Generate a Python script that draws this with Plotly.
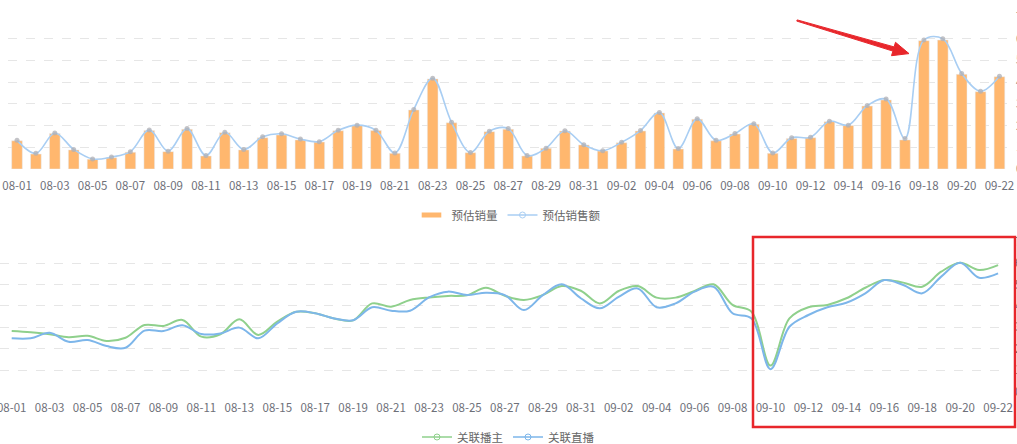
import plotly.graph_objects as go

W, H = 1017, 444

dates = [f"08-{d:02d}" for d in range(1, 32)] + [f"09-{d:02d}" for d in range(1, 23)]

est_volume = [1.30, 0.69, 1.64, 0.88, 0.45, 0.52, 0.77, 1.77, 0.80, 1.83,
              0.60, 1.67, 0.88, 1.44, 1.57, 1.34, 1.24, 1.76, 2.00, 1.77,
              0.72, 2.72, 4.15, 2.13, 0.75, 1.72, 1.83, 0.60, 0.95, 1.75,
              1.11, 0.83, 1.21, 1.75, 2.58, 0.92, 2.29, 1.30, 1.61, 2.06,
              0.72, 1.41, 1.44, 2.18, 2.00, 2.90, 3.18, 1.34, 5.91, 5.94,
              4.36, 3.56, 4.25]

est_sales = [1.32, 0.72, 1.66, 0.90, 0.46, 0.55, 0.80, 1.80, 0.82, 1.86,
             0.62, 1.69, 0.90, 1.48, 1.62, 1.38, 1.26, 1.78, 2.02, 1.78,
             0.74, 2.74, 4.18, 2.15, 0.76, 1.74, 1.86, 0.62, 0.96, 1.76,
             1.12, 0.84, 1.23, 1.77, 2.60, 0.94, 2.31, 1.32, 1.63, 2.08,
             0.74, 1.44, 1.46, 2.20, 2.02, 2.92, 3.22, 1.40, 5.94, 6.00,
             4.40, 3.58, 4.27]

anchor_assoc = [2.83, 2.77, 2.68, 2.54, 2.61, 2.37, 2.52, 3.11, 3.07, 3.35,
                2.57, 2.68, 3.38, 2.65, 3.27, 3.73, 3.66, 3.42, 3.33, 4.12,
                3.97, 4.28, 4.40, 4.47, 4.50, 4.85, 4.47, 4.28, 4.51, 4.93,
                4.71, 4.12, 4.70, 4.93, 4.39, 4.39, 4.70, 5.01, 4.05, 3.73,
                1.22, 3.42, 3.94, 4.05, 4.36, 4.85, 5.21, 5.09, 4.90, 5.60,
                6.02, 5.68, 5.91]

live_assoc = [2.49, 2.49, 2.75, 2.33, 2.41, 2.13, 2.05, 2.85, 2.83, 3.10,
              2.69, 2.72, 2.99, 2.49, 3.19, 3.73, 3.66, 3.42, 3.33, 3.94,
              3.78, 3.78, 4.40, 4.67, 4.51, 4.62, 4.51, 3.81, 4.51, 5.01,
              4.36, 3.89, 4.43, 4.82, 3.94, 4.12, 4.67, 4.90, 3.66, 3.42,
              1.05, 3.03, 3.58, 3.94, 4.15, 4.59, 5.21, 4.98, 4.59, 5.37,
              6.02, 5.32, 5.52]

y_ticks = [0, 1, 2, 3, 4, 5, 6, 7]

ORANGE = "#ffb76e"
LBLUE = "#a9cef3"
GREEN = "#8fd08c"
BLUE = "#7db6ea"
RED = "#e8262b"
FONT = "Noto Sans CJK SC, sans-serif"


def fy(y):
    return 1 - y / H


def px(x, y):
    return x / W, fy(y)


fig = go.Figure()

# ---- top panel ----
fig.add_trace(go.Bar(x=dates, y=est_volume, name="预估销量", marker_color=ORANGE,
                     xaxis="x", yaxis="y", showlegend=False, legend="legend"))
fig.add_trace(go.Scatter(x=dates, y=est_sales, name="预估销售额", mode="lines+markers",
                         line=dict(color=LBLUE, width=1.6, shape="spline", smoothing=1),
                         marker=dict(size=5, color="rgba(175,175,180,0.75)"),
                         xaxis="x", yaxis="y", showlegend=False, legend="legend"))
fig.add_trace(go.Scatter(x=[None], y=[None], name="预估销量", mode="markers",
                         marker=dict(symbol="line-ew", size=14, line=dict(color=ORANGE, width=6)),
                         xaxis="x", yaxis="y", legend="legend"))
fig.add_trace(go.Scatter(x=[None], y=[None], name="预估销售额", mode="lines+markers",
                         line=dict(color=LBLUE, width=1.6),
                         marker=dict(symbol="circle-open", size=6, color=LBLUE),
                         xaxis="x", yaxis="y", legend="legend"))

# ---- bottom panel ----
fig.add_trace(go.Scatter(x=dates, y=anchor_assoc, name="关联播主", mode="lines",
                         line=dict(color=GREEN, width=2, shape="spline", smoothing=1),
                         xaxis="x2", yaxis="y2", showlegend=False, legend="legend2"))
fig.add_trace(go.Scatter(x=dates, y=live_assoc, name="关联直播", mode="lines",
                         line=dict(color=BLUE, width=2, shape="spline", smoothing=1),
                         xaxis="x2", yaxis="y2", showlegend=False, legend="legend2"))
fig.add_trace(go.Scatter(x=[None], y=[None], name="关联播主", mode="lines+markers",
                         line=dict(color=GREEN, width=1.6),
                         marker=dict(symbol="circle-open", size=6, color=GREEN),
                         xaxis="x2", yaxis="y2", legend="legend2"))
fig.add_trace(go.Scatter(x=[None], y=[None], name="关联直播", mode="lines+markers",
                         line=dict(color=BLUE, width=1.6),
                         marker=dict(symbol="circle-open", size=6, color=BLUE),
                         xaxis="x2", yaxis="y2", legend="legend2"))

tickfont = dict(family=FONT, size=11.5, color="#6e7079")
grid = dict(showgrid=True, gridcolor="#e6e6e6", griddash="dash", gridwidth=1, zeroline=False)

x0_top, x1_top = 7.56, 1008.9
x0_bot, x1_bot = 0.0, 1007.0

fig.update_layout(
    width=W, height=H,
    margin=dict(l=0, r=0, t=0, b=0, autoexpand=False),
    paper_bgcolor="white", plot_bgcolor="white",
    font=dict(family=FONT, color="#666"),
    bargap=0.435,
    xaxis=dict(type="category", domain=[x0_top / W, x1_top / W], anchor="y",
               range=[-0.5, 52.5], tickvals=dates[::2], ticktext=dates[::2],
               showgrid=False, showline=False, ticks="", ticklabelstandoff=8,
               tickfont=tickfont, automargin=False),
    yaxis=dict(domain=[fy(169), fy(17)], range=[0, 7], tickvals=y_ticks,
               side="right", anchor="x", ticklabelstandoff=6,
               tickfont=dict(family=FONT, size=11.5, color="#6e7079"),
               automargin=False, **grid),
    xaxis2=dict(type="category", domain=[x0_bot / W, x1_bot / W], anchor="y2",
                range=[-0.617, 52.47], tickvals=dates[::2], ticktext=dates[::2],
                showgrid=False, showline=False, ticks="", ticklabelstandoff=8,
                tickfont=tickfont, automargin=False),
    yaxis2=dict(domain=[fy(391.7), fy(241.7)], range=[0, 7], tickvals=y_ticks,
                side="right", anchor="x2", ticklabelstandoff=7,
                tickfont=dict(family=FONT, size=11.5, color="#6e7079"),
                automargin=False, **grid),
    legend=dict(orientation="h", x=0.5, xanchor="center", y=fy(215), yanchor="middle",
                font=dict(family=FONT, size=11.5, color="#666"), bgcolor="rgba(0,0,0,0)",
                itemclick=False),
    legend2=dict(orientation="h", x=0.5, xanchor="center", y=fy(437), yanchor="middle",
                 font=dict(family=FONT, size=11.5, color="#666"), bgcolor="rgba(0,0,0,0)",
                 itemclick=False),
)

# ---- annotations: red arrow and red box ----
arrow_pts = [(797.2, 19.9), (894.1, 46.9), (895.5, 42.3), (909.0, 53.6),
             (891.5, 55.7), (892.9, 51.1), (796.8, 21.1)]
path = "M " + " L ".join(f"{px(x, y)[0]:.5f},{px(x, y)[1]:.5f}" for x, y in arrow_pts) + " Z"
fig.add_shape(type="path", path=path, xref="paper", yref="paper",
              fillcolor=RED, line=dict(color=RED, width=1), layer="above")

bx0, by0 = px(753, 237)
bx1, by1 = px(1015, 427)
fig.add_shape(type="rect", xref="paper", yref="paper", x0=bx0, x1=bx1, y0=by1, y1=by0,
              line=dict(color=RED, width=2.5), fillcolor="rgba(0,0,0,0)", layer="above")

fig.write_html("out.html", config={"displayModeBar": False},
               post_script="document.body.style.margin='0';")
